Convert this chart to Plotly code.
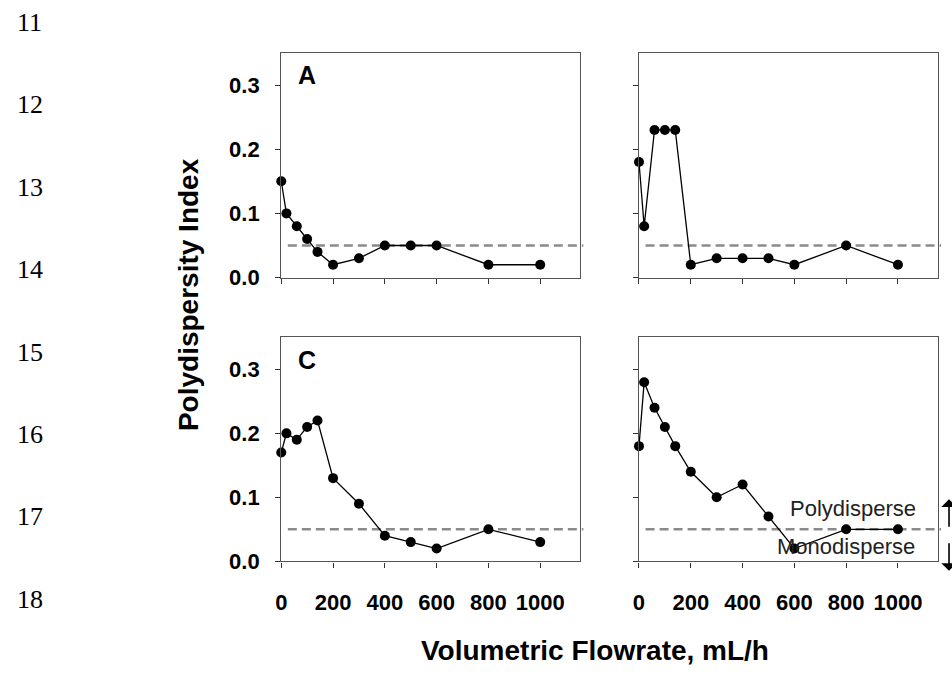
import plotly.graph_objects as go

# ---------------- data ----------------
FLOW = [0, 20, 60, 100, 140, 200, 300, 400, 500, 600, 800, 1000]
PDI_A = [0.15, 0.10, 0.08, 0.06, 0.04, 0.02, 0.03, 0.05, 0.05, 0.05, 0.02, 0.02]
PDI_B = [0.18, 0.08, 0.23, 0.23, 0.23, 0.02, 0.03, 0.03, 0.03, 0.02, 0.05, 0.02]
PDI_C = [0.17, 0.20, 0.19, 0.21, 0.22, 0.13, 0.09, 0.04, 0.03, 0.02, 0.05, 0.03]
PDI_D = [0.18, 0.28, 0.24, 0.21, 0.18, 0.14, 0.10, 0.12, 0.07, 0.02, 0.05, 0.05]
THRESHOLD = 0.05
X_TICKS = [0, 200, 400, 600, 800, 1000]
X_TICK_LABELS = ["0", "200", "400", "600", "800", "1000"]
Y_TICKS = [0.0, 0.1, 0.2, 0.3]
Y_TICK_LABELS = ["0.0", "0.1", "0.2", "0.3"]
PANEL_LABELS = ["A", "", "C", ""]
LINE_NUMBERS = ["11", "12", "13", "14", "15", "16", "17", "18"]
Y_TITLE = "Polydispersity Index"
X_TITLE = "Volumetric Flowrate, mL/h"

SERIES = [PDI_A, PDI_B, PDI_C, PDI_D]

# ---------------- layout geometry ----------------
W, H = 952, 677
X_DOMAINS = [(277 / W, 578 / W), (637 / W, 938 / W)]
Y_DOMAINS = [(1 - 283 / H, 1 - 54 / H), (1 - 572.3 / H, 1 - 344 / H)]
FONT = "Liberation Sans, Arial, Helvetica, sans-serif"
AXCOL = "#555555"

fig = go.Figure()

for i, vals in enumerate(SERIES):
    n = i + 1
    fig.add_trace(go.Scatter(
        x=FLOW, y=vals, mode="lines+markers",
        xaxis=f"x{n}", yaxis=f"y{n}",
        line=dict(color="black", width=1.3),
        marker=dict(color="black", size=10),
        cliponaxis=False, showlegend=False, hoverinfo="skip",
    ))

layout = dict(
    width=W, height=H,
    margin=dict(l=0, r=0, t=0, b=0),
    paper_bgcolor="white", plot_bgcolor="white",
    showlegend=False,
    font=dict(family=FONT, color="black"),
)

for i in range(4):
    n = i + 1
    row, col = divmod(i, 2)
    xs = "" if n == 1 else str(n)
    layout[f"xaxis{xs}"] = dict(
        domain=X_DOMAINS[col], anchor=f"y{n}", range=[0, 1155],
        tickvals=X_TICKS, ticktext=X_TICK_LABELS,
        showticklabels=(row == 1),
        ticks="outside", ticklen=5, tickcolor="#333333", tickwidth=1,
        showline=True, linecolor=AXCOL, linewidth=1.4, mirror=True,
        showgrid=False, zeroline=False,
        tickfont=dict(family=FONT, size=22, weight="bold", color="black"),
        ticklabelstandoff=16,
    )
    layout[f"yaxis{xs}"] = dict(
        domain=Y_DOMAINS[row], anchor=f"x{n}", range=[0, 0.35],
        tickvals=Y_TICKS, ticktext=Y_TICK_LABELS,
        showticklabels=(col == 0),
        ticks="outside", ticklen=5, tickcolor="#333333", tickwidth=1,
        showline=True, linecolor=AXCOL, linewidth=1.4, mirror=True,
        showgrid=False, zeroline=False,
        tickfont=dict(family=FONT, size=22, weight="bold", color="black"),
        ticklabelstandoff=11,
    )

fig.update_layout(**layout)

# threshold dashed lines
for i in range(4):
    n = i + 1
    fig.add_shape(
        type="line", xref=f"x{n} domain" if n > 1 else "x domain",
        yref=f"y{n}" if n > 1 else "y",
        x0=0.022, x1=1.01, y0=THRESHOLD, y1=THRESHOLD,
        line=dict(color="#8a8a8a", width=2.6, dash="9px,5px"),
        layer="below",
    )

annotations = []
# panel letters
for i, lab in enumerate(PANEL_LABELS):
    if not lab:
        continue
    n = i + 1
    annotations.append(dict(
        text=lab, xref=f"x{n}", yref=f"y{n}", x=100, y=0.315,
        showarrow=False, xanchor="center", yanchor="middle",
        font=dict(family=FONT, size=25, weight="bold", color="black"),
    ))

# region labels in panel D
annotations.append(dict(
    text="Polydisperse", xref="x4", yref="y4", x=1077, y=0.083,
    xanchor="right", yanchor="middle", showarrow=False,
    font=dict(family=FONT, size=22, color="#222222"),
))
annotations.append(dict(
    text="Monodisperse", xref="x4", yref="y4", x=1073, y=0.023,
    xanchor="right", yanchor="middle", showarrow=False,
    font=dict(family=FONT, size=22, color="#222222"),
))
# arrows at the right edge (paper coordinates, tail offsets in pixels)
annotations.append(dict(
    text="", xref="paper", yref="paper",
    x=949 / W, y=1 - 509 / H, ax=0, ay=29,
    showarrow=True, arrowhead=1, arrowsize=1.6, arrowwidth=1.6, arrowcolor="black",
))
annotations.append(dict(
    text="", xref="paper", yref="paper",
    x=949 / W, y=1 - 582 / H, ax=0, ay=-29,
    showarrow=True, arrowhead=1, arrowsize=1.6, arrowwidth=1.6, arrowcolor="black",
))

# axis titles
annotations.append(dict(
    text=Y_TITLE, xref="paper", yref="paper", x=183 / W, y=1 - 300 / H,
    textangle=-90, showarrow=False, xanchor="center", yanchor="middle",
    font=dict(family=FONT, size=28, weight="bold", color="black"),
))
annotations.append(dict(
    text=X_TITLE, xref="paper", yref="paper", x=593 / W, y=1 - 663 / H,
    showarrow=False, xanchor="center", yanchor="middle",
    font=dict(family=FONT, size=28, weight="bold", color="black"),
))

# manuscript line numbers
for k, num in enumerate(LINE_NUMBERS):
    ypix = 23 + 84 * k
    annotations.append(dict(
        text=num, xref="paper", yref="paper", x=24 / W, y=1 - ypix / H,
        showarrow=False, xanchor="center", yanchor="middle",
        font=dict(family="Liberation Serif, Times New Roman, serif", size=26, color="black"),
    ))

fig.update_layout(annotations=annotations)

fig.write_html(
    "out.html",
    config={"displayModeBar": False},
    post_script="document.body.style.margin='0';document.body.style.overflow='hidden';",
)
